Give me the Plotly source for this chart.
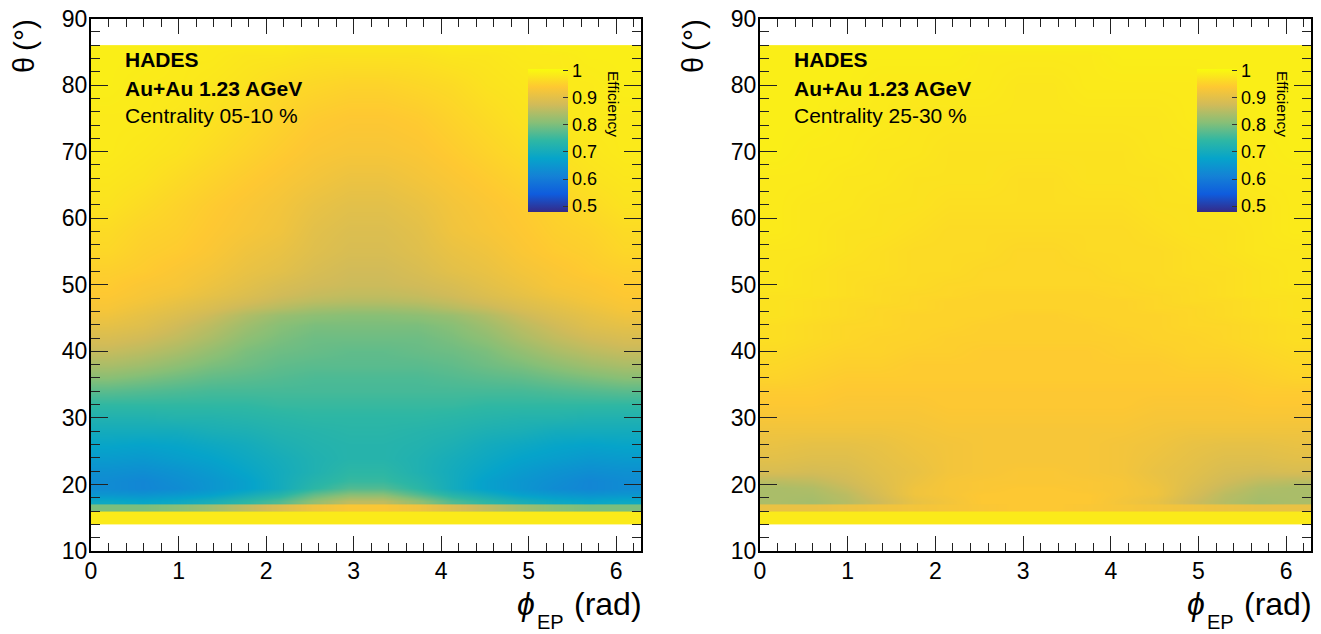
import plotly.graph_objects as go

W, H = 1321, 634
phi = [0.196,0.589,0.982,1.374,1.767,2.160,2.553,2.945,3.338,3.731,4.123,4.516,4.909,5.301,5.694,6.087]
theta = [16.5,17.5,18.5,19.5,20.5,22,24,26,28,30,32,34,36,38,40,42,44,45.5,46.5,47.5,48.5,50,52,55,58,62,66,70,75,80,84.5,85.5]
band_low = [14.5,15.5,16.5]
band_mid = [16.25,16.75]

eff_left = [
[.69,.68,.69,.71,.74,.77,.82,.86,.86,.82,.77,.74,.71,.69,.68,.69],
[.69,.68,.69,.71,.74,.77,.82,.86,.86,.82,.77,.74,.71,.69,.68,.69],
[.65,.645,.655,.67,.70,.73,.78,.81,.81,.77,.73,.70,.67,.655,.645,.65],
[.63,.62,.63,.65,.67,.70,.74,.77,.77,.74,.70,.67,.65,.63,.62,.63],
[.63,.62,.635,.65,.67,.70,.73,.75,.75,.73,.70,.67,.65,.635,.62,.63],
[.64,.635,.645,.66,.68,.70,.72,.74,.74,.72,.70,.68,.66,.645,.635,.64],
[.66,.655,.665,.675,.69,.705,.72,.73,.73,.72,.705,.69,.675,.665,.655,.66],
[.68,.675,.68,.69,.70,.715,.725,.73,.73,.725,.715,.70,.69,.68,.675,.68],
[.70,.70,.70,.71,.715,.725,.73,.735,.735,.73,.725,.715,.71,.70,.70,.70],
[.72,.72,.725,.725,.73,.735,.74,.74,.74,.74,.735,.73,.725,.725,.72,.72],
[.745,.745,.745,.745,.745,.75,.75,.75,.75,.75,.75,.745,.745,.745,.745,.745],
[.775,.77,.765,.76,.76,.76,.76,.76,.76,.76,.76,.76,.76,.765,.77,.775],
[.81,.80,.79,.78,.775,.77,.765,.765,.765,.765,.77,.775,.78,.79,.80,.81],
[.84,.83,.815,.80,.79,.78,.775,.775,.775,.775,.78,.79,.80,.815,.83,.84],
[.865,.855,.84,.82,.80,.79,.785,.78,.78,.785,.79,.80,.82,.84,.855,.865],
[.885,.875,.86,.84,.815,.80,.79,.79,.79,.79,.80,.815,.84,.86,.875,.885],
[.905,.895,.875,.855,.83,.81,.80,.80,.80,.80,.81,.83,.855,.875,.895,.905],
[.92,.905,.89,.87,.845,.825,.815,.81,.81,.815,.825,.845,.87,.89,.905,.92],
[.93,.915,.90,.885,.865,.85,.835,.83,.83,.835,.85,.865,.885,.90,.915,.93],
[.935,.925,.91,.895,.88,.865,.855,.85,.85,.855,.865,.88,.895,.91,.925,.935],
[.94,.93,.92,.905,.89,.875,.865,.86,.86,.865,.875,.89,.905,.92,.93,.94],
[.945,.935,.93,.915,.90,.885,.875,.87,.87,.875,.885,.90,.915,.93,.935,.945],
[.95,.945,.935,.925,.91,.90,.885,.875,.875,.885,.90,.91,.925,.935,.945,.95],
[.96,.95,.945,.935,.92,.91,.895,.885,.885,.895,.91,.92,.935,.945,.95,.96],
[.965,.955,.95,.94,.93,.92,.90,.89,.89,.90,.92,.93,.94,.95,.955,.965],
[.975,.965,.955,.945,.935,.925,.91,.90,.90,.91,.925,.935,.945,.955,.965,.975],
[.98,.975,.965,.955,.945,.935,.925,.915,.915,.925,.935,.945,.955,.965,.975,.98],
[.985,.98,.975,.965,.955,.945,.935,.93,.93,.935,.945,.955,.965,.975,.98,.985],
[.985,.985,.98,.975,.965,.955,.945,.94,.94,.945,.955,.965,.975,.98,.985,.985],
[.99,.985,.985,.98,.975,.965,.96,.955,.955,.96,.965,.975,.98,.985,.985,.99],
[.99,.99,.985,.985,.98,.98,.975,.975,.975,.975,.98,.98,.985,.985,.99,.99],
[.99,.99,.99,.985,.985,.985,.98,.98,.98,.98,.985,.985,.985,.99,.99,.99],
]
mid_left_row = [.80,.80,.81,.83,.86,.89,.92,.935,.935,.92,.89,.86,.83,.81,.80,.80]
low_left_row = [.985,.985,.985,.985,.985,.985,.985,.985,.985,.985,.985,.985,.985,.985,.985,.985]

eff_right = [
[.84,.835,.85,.875,.91,.925,.94,.94,.94,.94,.925,.91,.875,.85,.835,.84],
[.84,.835,.85,.875,.91,.925,.94,.94,.94,.94,.925,.91,.875,.85,.835,.84],
[.84,.84,.855,.885,.92,.93,.94,.94,.94,.94,.93,.92,.885,.855,.84,.84],
[.84,.845,.865,.89,.92,.93,.935,.94,.94,.935,.93,.92,.89,.865,.845,.84],
[.855,.86,.875,.895,.915,.93,.935,.935,.935,.935,.93,.915,.895,.875,.86,.855],
[.885,.88,.885,.90,.91,.925,.93,.935,.935,.93,.925,.91,.90,.885,.88,.885],
[.90,.895,.895,.905,.915,.925,.93,.93,.93,.93,.925,.915,.905,.895,.895,.90],
[.91,.905,.905,.91,.92,.925,.93,.93,.93,.93,.925,.92,.91,.905,.905,.91],
[.92,.92,.92,.92,.925,.93,.93,.93,.93,.93,.93,.925,.92,.92,.92,.92],
[.93,.93,.93,.93,.93,.935,.935,.935,.935,.935,.935,.93,.93,.93,.93,.93],
[.94,.94,.935,.935,.935,.94,.94,.94,.94,.94,.94,.935,.935,.935,.94,.94],
[.945,.945,.94,.94,.94,.94,.94,.94,.94,.94,.94,.94,.94,.94,.945,.945],
[.955,.95,.945,.945,.945,.945,.945,.945,.945,.945,.945,.945,.945,.945,.95,.955],
[.96,.955,.95,.95,.945,.945,.945,.945,.945,.945,.945,.945,.95,.95,.955,.96],
[.965,.96,.955,.955,.95,.95,.945,.945,.945,.945,.95,.95,.955,.955,.96,.965],
[.97,.965,.96,.955,.955,.95,.95,.95,.95,.95,.95,.955,.955,.96,.965,.97],
[.97,.965,.96,.96,.955,.955,.95,.95,.95,.95,.955,.955,.96,.96,.965,.97],
[.975,.97,.965,.96,.955,.955,.955,.95,.95,.955,.955,.955,.96,.965,.97,.975],
[.975,.97,.965,.96,.96,.955,.955,.955,.955,.955,.955,.96,.96,.965,.97,.975],
[.975,.97,.965,.965,.96,.955,.955,.955,.955,.955,.955,.96,.965,.965,.97,.975],
[.975,.975,.97,.965,.96,.96,.955,.955,.955,.955,.96,.96,.965,.97,.975,.975],
[.98,.975,.97,.965,.965,.96,.96,.96,.96,.96,.96,.965,.965,.97,.975,.98],
[.98,.975,.97,.97,.965,.965,.96,.96,.96,.96,.965,.965,.97,.97,.975,.98],
[.98,.98,.975,.97,.965,.965,.965,.96,.96,.965,.965,.965,.97,.975,.98,.98],
[.985,.98,.975,.975,.97,.965,.965,.965,.965,.965,.965,.97,.975,.975,.98,.985],
[.985,.98,.98,.975,.975,.97,.97,.97,.97,.97,.97,.975,.975,.98,.98,.985],
[.985,.985,.98,.98,.975,.975,.975,.97,.97,.975,.975,.975,.98,.98,.985,.985],
[.99,.985,.985,.98,.98,.975,.975,.975,.975,.975,.975,.98,.98,.985,.985,.99],
[.99,.99,.985,.985,.98,.98,.98,.98,.98,.98,.98,.98,.985,.985,.99,.99],
[.99,.99,.99,.985,.985,.985,.985,.98,.98,.985,.985,.985,.985,.99,.99,.99],
[.99,.99,.99,.99,.99,.99,.985,.985,.985,.985,.99,.99,.99,.99,.99,.99],
[.99,.99,.99,.99,.99,.99,.99,.99,.99,.99,.99,.99,.99,.99,.99,.99],
]
mid_right_row = [.91,.91,.915,.92,.925,.93,.935,.94,.94,.935,.93,.925,.92,.915,.91,.91]
low_right_row = [.985,.985,.985,.985,.985,.985,.985,.985,.985,.985,.985,.985,.985,.985,.985,.985]

bird = [[0.0,"rgb(53,42,135)"],[0.125,"rgb(15,92,221)"],[0.25,"rgb(20,129,214)"],[0.375,"rgb(6,164,202)"],
        [0.5,"rgb(46,183,164)"],[0.625,"rgb(135,191,119)"],[0.75,"rgb(209,187,89)"],[0.875,"rgb(254,200,50)"],[1.0,"rgb(249,251,14)"]]
zmin, zmax = 0.478, 1.007
FONT = "Liberation Sans"

fig = go.Figure()
panels = [("x", "y", 91, 641, eff_left, mid_left_row, low_left_row, "Centrality 05-10 %"),
          ("x2", "y2", 760, 1311, eff_right, mid_right_row, low_right_row, "Centrality 25-30 %")]
annotations, shapes = [], []
for xa, ya, x0, x1, main, mid, low, cent in panels:
    fig.add_trace(go.Heatmap(x=phi, y=band_low, z=[low, low, low], xaxis=xa, yaxis=ya, zsmooth="best", colorscale=bird,
        zmin=zmin, zmax=zmax, hoverinfo="skip", showscale=False))
    fig.add_trace(go.Heatmap(x=phi, y=theta, z=main, xaxis=xa, yaxis=ya, zsmooth="best", colorscale=bird,
        zmin=zmin, zmax=zmax, hoverinfo="skip", showscale=True,
        colorbar=dict(x=(x0+437)/W, xanchor="left", xpad=0, y=1-212/H, yanchor="bottom", ypad=0,
                      thickness=40, thicknessmode="pixels", len=143, lenmode="pixels", outlinewidth=0,
                      ticks="inside", ticklen=5, tickcolor="#333", tickwidth=1, tickvals=[.5,.6,.7,.8,.9,1],
                      ticktext=["0.5","0.6","0.7","0.8","0.9","1"],
                      tickfont=dict(family=FONT, size=18, color="black"))))
    fig.add_trace(go.Heatmap(x=phi, y=band_mid, z=[mid, mid], xaxis=xa, yaxis=ya, zsmooth="best", colorscale=bird,
        zmin=zmin, zmax=zmax, hoverinfo="skip", showscale=False))
    base = dict(xref="paper", yref="paper", showarrow=False, xanchor="left", yanchor="middle",
                font=dict(family=FONT, size=21, color="black"))
    big = dict(family=FONT, size=32, color="black")
    annotations += [
        dict(base, x=(x0+32)/W, y=1-60/H, text="<b>HADES</b>"),
        dict(base, x=(x0+32)/W, y=1-88/H, text="<b>Au+Au 1.23 AGeV</b>"),
        dict(base, x=(x0+32)/W, y=1-116/H, text=cent),
        dict(base, x=(x0+522)/W, y=1-104/H, xanchor="center", text="Efficiency", textangle=90,
             font=dict(family=FONT, size=15.5, color="black")),
        dict(base, x=(x1+3)/W, y=1-604/H, xanchor="right", text="(rad)", font=big),
        dict(base, x=(x1-75)/W, y=1-622/H, xanchor="right", text="EP", font=dict(family=FONT, size=20, color="black")),
        dict(base, x=(x1-104)/W, y=1-604/H, xanchor="right", text="<i>ϕ</i>", font=big),
        dict(base, x=(x0-67)/W, y=1-17/H, xanchor="center", yanchor="top", text="(°)", textangle=-90,
             font=dict(family=FONT, size=30, color="black")),
        dict(base, x=(x0-67)/W, y=1-65/H, xanchor="center", yanchor="middle", text="θ", textangle=-90,
             font=dict(family=FONT, size=29, color="black")),
    ]
    shapes.append(dict(type="line", xref="paper", yref="paper", x0=(x0+476.5)/W, x1=(x0+476.5)/W,
                       y0=1-69/H, y1=1-212/H, line=dict(color="#333", width=1)))

def xaxis(x0, x1, anchor):
    return dict(domain=[x0/W, x1/W], anchor=anchor, range=[0, 6.2832], tickmode="array", tickvals=[0,1,2,3,4,5,6],
                ticks="inside", ticklen=15, tickwidth=1, tickcolor="#222", ticklabelstandoff=-2,
                minor=dict(ticks="inside", ticklen=8, tickwidth=1, tickcolor="#222",
                           tickvals=[i/5 for i in range(32)]),
                showline=True, linecolor="black", linewidth=2, mirror="allticks", showgrid=False, zeroline=False,
                tickfont=dict(family=FONT, size=23, color="black"))
def yaxis(anchor):
    return dict(domain=[1-551/H, 1-18.5/H], anchor=anchor, range=[10, 90], tickmode="array",
                tickvals=[10,20,30,40,50,60,70,80,90], ticks="inside", ticklen=17, tickwidth=1, tickcolor="#222",
                ticklabelstandoff=-3,
                minor=dict(ticks="inside", ticklen=9, tickwidth=1, tickcolor="#222",
                           tickvals=list(range(10, 91, 2))),
                showline=True, linecolor="black", linewidth=2, mirror="allticks", showgrid=False, zeroline=False,
                tickfont=dict(family=FONT, size=23, color="black"))

fig.update_layout(width=W, height=H, margin=dict(l=0, r=0, t=0, b=0, autoexpand=False), paper_bgcolor="white", plot_bgcolor="white",
    xaxis=xaxis(91, 641, "y"), yaxis=yaxis("x"), xaxis2=xaxis(760, 1311, "y2"), yaxis2=yaxis("x2"),
    annotations=annotations, shapes=shapes, showlegend=False)
fig.write_html("out.html", config={"displayModeBar": False}, post_script="document.body.style.margin='0';")
